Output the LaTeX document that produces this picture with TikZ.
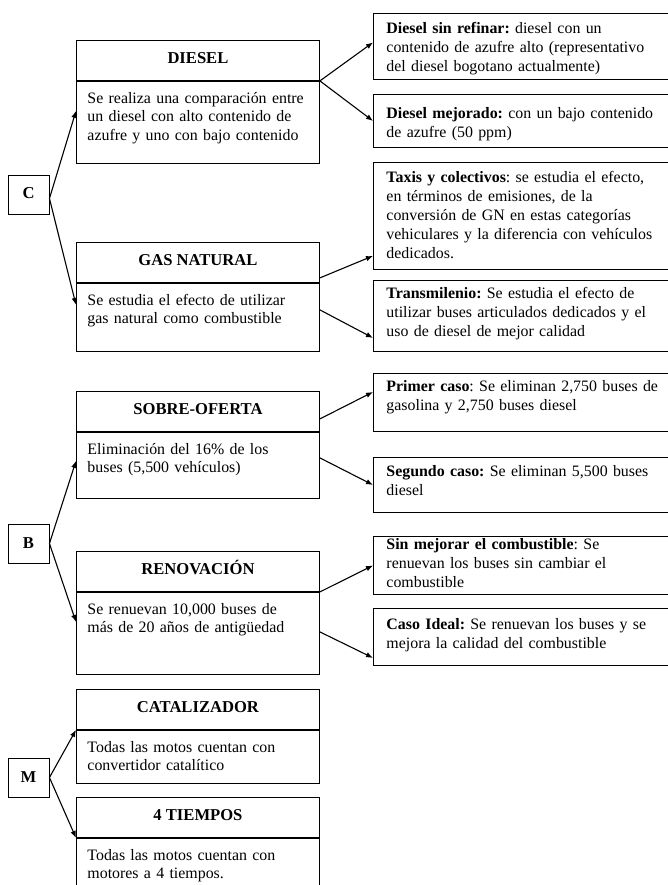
\documentclass[tikz,border=0pt]{standalone}
\usepackage{fontspec}
\setmainfont{Liberation Serif}
\usepackage{tikz}
\usetikzlibrary{arrows.meta,positioning,calc}

\newcommand{\headfont}{\fontsize{16.6}{18.5}\selectfont\bfseries}
\newcommand{\boxtext}{\fontsize{15.9}{18.6}\selectfont\frenchspacing\hyphenpenalty=10000\relax}
\newcommand{\casetext}{\fontsize{15.9}{19}\selectfont\frenchspacing\hyphenpenalty=10000\relax}

\begin{document}
\begin{tikzpicture}[x=1pt, y=-1pt,
    header/.style={rectangle, draw, line width=0.9pt, minimum width=243pt, minimum height=40pt, inner sep=0pt, font=\headfont, text height=11pt, text depth=5pt, anchor=north west},
    body/.style={rectangle, draw, line width=0.9pt, text width=221pt, inner xsep=11pt, inner ysep=9pt, text height=13pt, text depth=#1, align=left, font=\boxtext},
    casebox/.style={rectangle, draw, line width=0.9pt, text width=300pt, inner xsep=13pt, inner ysep=8pt, text height=12pt, text depth=#1, align=left, anchor=north west, font=\casetext},
    letter/.style={rectangle, draw, line width=0.9pt, minimum width=41pt, minimum height=39pt, inner sep=0pt, font=\headfont, text height=11pt, text depth=2pt},
    line/.style={draw, -{Latex[length=7pt, width=5.5pt]}, line width=1.1pt}]

    \useasboundingbox (0,0) rectangle (667,885);

    % C: combustibles
    \node [letter] (C) at (28.5,194.5) {C};
    \node [header] (dieselH) at (76,40) {DIESEL};
    \node [body=51pt, below=0pt of dieselH] (dieselB) {Se realiza una comparación entre\\un diesel con alto contenido de\\azufre y uno con bajo contenido};
    \node [header] (gasH) at (76,242) {GAS NATURAL};
    \node [body=37pt, below=0pt of gasH] (gasB) {Se estudia el efecto de utilizar\\gas natural como combustible};

    \node [casebox=38pt] (sinref) at (373,13) {\textbf{Diesel sin refinar:} diesel con un\\contenido de azufre alto (representativo\\del diesel bogotano actualmente)};
    \node [casebox=21pt, text height=16pt] (mejorado) at (373,94) {\textbf{Diesel mejorado:} con un bajo contenido\\de azufre (50 ppm)};
    \node [casebox=79pt] (taxis) at (373,162) {\textbf{Taxis y colectivos}: se estudia el efecto,\\en términos de emisiones, de la\\conversión de GN en estas categorías\\vehiculares y la diferencia con vehículos\\dedicados.};
    \node [casebox=45pt, text height=10pt] (transm) at (373,280) {\textbf{Transmilenio:} Se estudia el efecto de\\utilizar buses articulados dedicados y el\\uso de diesel de mejor calidad};

    \draw [line] ([yshift=-4pt]C.east) -- ([yshift=-30pt]dieselB.north west);
    \draw [line] ([yshift=-4pt]C.east) -- ([yshift=-22pt]gasB.north west);
    \draw [line] (dieselH.south east) -- ([yshift=4pt]sinref.west);
    \draw [line] (dieselH.south east) -- (mejorado.west);
    \draw [line] ([yshift=5pt]gasH.south east) -- ([yshift=14pt]taxis.south west);
    \draw [line] ([yshift=-27pt]gasH.south east) -- ([yshift=14pt]transm.south west);

    % B: buses
    \node [letter] (B) at (28.5,543.5) {B};
    \node [header] (sobreH) at (76,391) {SOBRE-OFERTA};
    \node [body=35pt, below=0pt of sobreH] (sobreB) {Eliminación del 16\% de los\\buses (5,500 vehículos)};
    \node [header] (renovH) at (76,551) {RENOVACIÓN};
    \node [body=51pt, below=0pt of renovH] (renovB) {Se renuevan 10,000 buses de\\más de 20 años de antigüedad};

    \node [casebox=32pt, text height=10pt] (primer) at (373,373) {\textbf{Primer caso}: Se eliminan 2,750 buses de\\gasolina y 2,750 buses diesel};
    \node [casebox=28pt, text height=11pt] (segundo) at (373,457) {\textbf{Segundo caso:} Se eliminan 5,500 buses\\diesel};
    \node [casebox=37.4pt, text height=4.6pt] (sinmej) at (373,536) {\textbf{Sin mejorar el combustible}: Se\\renuevan los buses sin cambiar el\\combustible};
    \node [casebox=28.4pt, text height=12.6pt] (ideal) at (373,608) {\textbf{Caso Ideal:} Se renuevan los buses y se\\mejora la calidad del combustible};

    \draw [line] (B.east) -- ([yshift=-29pt]sobreB.north west);
    \draw [line] (B.east) -- ([yshift=-30pt]renovB.north west);
    \draw [line] ([yshift=13pt]sobreH.south east) -- ([yshift=-19pt]primer.north west);
    \draw [line] ([yshift=-26pt]sobreH.south east) -- (segundo.west);
    \draw [line] (renovH.south east) -- (sinmej.west);
    \draw [line] ([yshift=-40pt]renovH.south east) -- ([yshift=8pt]ideal.south west);

    % M: motos
    \node [letter] (M) at (28.5,777.5) {M};
    \node [header] (catH) at (76,689) {CATALIZADOR};
    \node [body=22pt, below=0pt of catH] (catB) {Todas las motos cuentan con\\convertidor catalítico};
    \node [header] (tiemH) at (76,797) {4 TIEMPOS};
    \node [body=60pt, below=0pt of tiemH] (tiemB) {Todas las motos cuentan con\\motores a 4 tiempos.};

    \draw [line] (M.east) -- (catB.north west);
    \draw [line] (M.east) -- (tiemB.north west);
\end{tikzpicture}
\end{document}
